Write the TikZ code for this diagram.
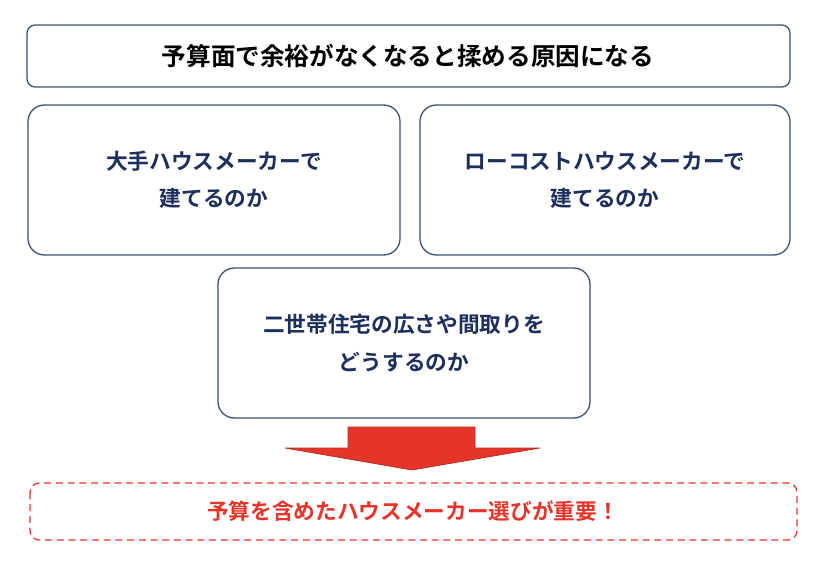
\documentclass[tikz,border=0pt]{standalone}
\usepackage{fontspec}
\setmainfont{Noto Sans CJK JP}[BoldFont={* Bold}]
\usepackage{xcolor}
\definecolor{navy}{HTML}{1F2F5C}
\definecolor{boxline}{HTML}{3C4E7A}
\definecolor{alert}{HTML}{E5352B}
\tikzset{
  box/.style={draw=boxline, line width=1.1pt, rounded corners=14pt, fill=white},
  boxtext/.style={text=navy, font=\fontsize{18.5}{32}\selectfont\bfseries, align=center}
}
\begin{document}
\begin{tikzpicture}[x=0.03cm,y=-0.03cm]
\useasboundingbox (0,0) rectangle (828,563);
% top banner
\draw [box, rounded corners=7pt] (27,25) rectangle (790,87);
\node (head) at (408,56) {\fontsize{21}{25}\selectfont\bfseries 予算面で余裕がなくなると揉める原因になる};
% three questions
\draw [box] (28,105) rectangle (400,255);
\node [boxtext] (big) at (214,180) {大手ハウスメーカーで\\建てるのか};
\draw [box] (420,105) rectangle (790,255);
\node [boxtext] (low) at (605,180) {ローコストハウスメーカーで\\建てるのか};
\draw [box] (218,268) rectangle (590,418);
\node [boxtext] (size) at (404,343) {二世帯住宅の広さや間取りを\\どうするのか};
% arrow
\filldraw [fill=alert, draw=alert!80!black, line width=0.6pt]
  (348,427) -- (475,427) -- (475,448) -- (540,448) -- (412,470)
  -- (285,448) -- (348,448) -- cycle;
% conclusion
\draw [draw=alert, line width=1.1pt, dashed, dash pattern=on 6pt off 4pt, rounded corners=8pt]
  (30,483) rectangle (797,540);
\node [text=alert] (end) at (413,511) {\fontsize{18.5}{22}\selectfont\bfseries 予算を含めたハウスメーカー選びが重要！};
\end{tikzpicture}
\end{document}
